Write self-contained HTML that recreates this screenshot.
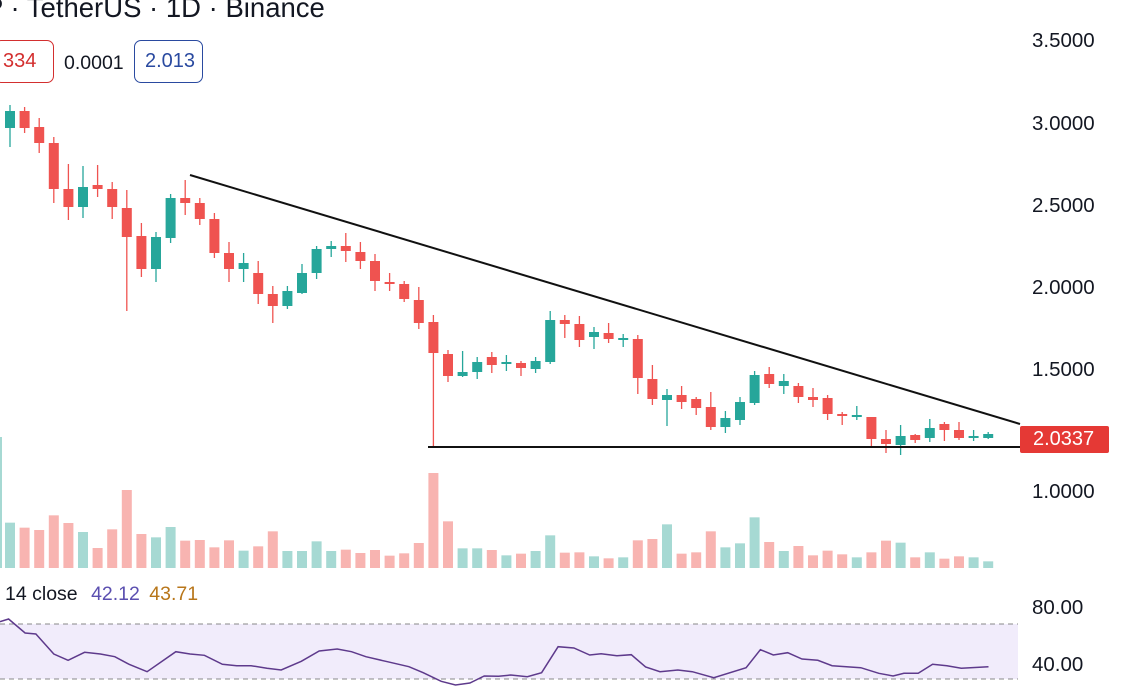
<!DOCTYPE html>
<html><head><meta charset="utf-8"><style>
body{margin:0;width:1125px;height:700px;overflow:hidden;background:#fff;font-family:"Liberation Sans",sans-serif;position:relative}
.t{position:absolute;white-space:nowrap}
.ax{position:absolute;left:1032px;font-size:20.5px;color:#131722}
</style></head><body>
<svg id="s" width="1125" height="700" style="position:absolute;left:0;top:0"></svg>
<div class="t" style="left:-15px;top:-8px;font-size:27.5px;color:#131722">P · TetherUS · 1D · Binance</div>
<div class="t" style="left:-6px;top:40px;width:58px;height:41px;border:1.5px solid #d32f2f;border-radius:7px"></div>
<div class="t" style="left:3px;top:50px;font-size:20px;color:#d32f2f">334</div>
<div class="t" style="left:64px;top:52px;font-size:19.5px;color:#131722">0.0001</div>
<div class="t" style="left:134px;top:40px;width:67px;height:41px;border:1.5px solid #2a4aa0;border-radius:7px"></div>
<div class="t" style="left:145px;top:50px;font-size:20px;color:#2a4aa0">2.013</div>
<div class="ax" style="top:29px">3.5000</div>
<div class="ax" style="top:112px">3.0000</div>
<div class="ax" style="top:194px">2.5000</div>
<div class="ax" style="top:276px">2.0000</div>
<div class="ax" style="top:358px">1.5000</div>
<div class="ax" style="top:480px">1.0000</div>
<div class="t" style="left:1020px;top:426px;width:89px;height:27px;background:#e53935;border-radius:2px"></div>
<div class="t" style="left:1033px;top:428px;font-size:20px;color:#fff">2.0337</div>
<div class="t" style="left:5px;top:583px;font-size:19.5px;color:#131722">14 close <span style="color:#5b4fb0;margin-left:8px">42.12</span> <span style="color:#b8761a;margin-left:4px">43.71</span></div>
<div class="ax" style="top:596px">80.00</div>
<div class="ax" style="top:653px">40.00</div>
<script>
var C=[[111,128,105,147,'g'],[111,128,107,133,'r'],[127,143,118,153,'r'],[143,189,137,203,'r'],[189,207,164,220,'r'],[187,207,166,218,'g'],[185,189,165,197,'r'],[189,207,182,219,'r'],[208,237,190,311,'r'],[236,269,223,277,'r'],[237,269,232,282,'g'],[198,238,194,243,'g'],[198,203,180,215,'r'],[203,219,198,225,'r'],[219,253,213,258,'r'],[253,269,242,282,'r'],[263,269,253,282,'g'],[273,294,261,304,'r'],[294,306,286,323,'r'],[291,306,286,309,'g'],[273,293,264,294,'g'],[249,273,246,279,'g'],[246,249,241,257,'g'],[246,251,233,262,'r'],[252,261,242,269,'r'],[261,281,254,291,'r'],[282,284,273,291,'r'],[284,299,281,302,'r'],[300,323,287,329,'r'],[322,353,315,447,'r'],[354,376,350,382,'r'],[372,376,351,377,'g'],[362,372,357,379,'g'],[357,365,352,373,'r'],[362,364,355,371,'g'],[363,368,361,376,'r'],[361,369,357,373,'g'],[320,362,311,364,'g'],[320,324,315,338,'r'],[324,340,316,347,'r'],[332,337,327,349,'g'],[333,339,323,343,'r'],[338,339,334,347,'g'],[339,378,335,394,'r'],[379,399,365,405,'r'],[395,400,389,426,'g'],[395,402,386,409,'r'],[399,408,397,415,'r'],[407,427,392,430,'r'],[418,427,411,433,'g'],[402,420,397,425,'g'],[375,403,371,405,'g'],[374,384,367,388,'r'],[381,386,374,394,'g'],[386,397,383,403,'r'],[397,400,388,407,'r'],[398,414,395,420,'r'],[414,416,412,425,'r'],[415,417,406,420,'g'],[417,439,417,447,'r'],[439,444,430,453,'r'],[436,445,425,455,'g'],[435,440,434,443,'r'],[428,438,419,442,'g'],[424,430,422,441,'r'],[430,438,422,440,'r'],[436,437,430,441,'g'],[434,438,432,439,'g']];
var V=[188,203,210,166,189,216,264,208,90,222,232,201,242,240,262,241,272,259,214,273,273,244,273,269,279,270,287,280,249,39,184,265,265,270,286,281,273,226,278,277,289,295,292,241,237,193,281,277,214,262,250,172,246,273,258,286,272,283,292,277,242,248,292,277,296,289,292,304];
var h='';
h+='<rect x="0" y="624" width="1018" height="55" fill="#f1ecfb"/>';
h+='<line x1="0" y1="624" x2="1018" y2="624" stroke="#888" stroke-dasharray="5,4"/>';
h+='<line x1="0" y1="679" x2="1018" y2="679" stroke="#888" stroke-dasharray="5,4"/>';
h+='<rect x="0" y="437" width="2" height="131" fill="#a6d9d3"/>';
for(var i=0;i<68;i++){var x=10+i*14.6,c=C[i],g=c[4]=='g';
var vt=460+V[i]/3;
h+='<rect x="'+(x-5)+'" y="'+vt+'" width="10" height="'+(568-vt)+'" fill="'+(g?'#a6d9d3':'#f8b4b1')+'"/>';
h+='<line x1="'+x+'" y1="'+c[2]+'" x2="'+x+'" y2="'+c[3]+'" stroke="'+(g?'#26a69a':'#ef5350')+'" stroke-width="1.3"/>';
h+='<rect x="'+(x-5)+'" y="'+c[0]+'" width="10" height="'+Math.max(2,c[1]-c[0])+'" fill="'+(g?'#26a69a':'#ef5350')+'"/>';}
h+='<line x1="190" y1="175" x2="1020" y2="424" stroke="#111" stroke-width="2"/>';
h+='<line x1="428" y1="447" x2="1020" y2="447" stroke="#111" stroke-width="2"/>';
var R=[[0,140],[12,132],[35,174],[50,177],[75,237],[95,256],[118,232],[140,237],[160,245],[180,268],[205,290],[245,230],[265,237],[285,241],[310,268],[330,272],[350,272],[372,280],[392,285],[420,259],[445,228],[470,222],[490,230],[510,245],[540,260],[570,275],[590,293],[615,319],[635,330],[655,324],[675,303],[695,304],[712,300],[735,305],[755,293],[778,215],[800,219],[822,240],[838,236],[860,242],[880,239],[900,276],[920,290],[945,285],[965,290],[995,308],[1040,278],[1060,224],[1078,240],[1098,233],[1118,252],[1140,256],[1160,272],[1200,278],[1225,295],[1245,303],[1260,295],[1280,295],[1300,268],[1320,272],[1340,280],[1378,275]];
var p=R.map(function(r){return (r[0]/1.394).toFixed(1)+','+(575+r[1]/3).toFixed(1)}).join(' ');
h+='<polyline points="'+p+'" fill="none" stroke="#5e3a8c" stroke-width="1.5"/>';
document.getElementById('s').innerHTML=h;
</script>
</body></html>
